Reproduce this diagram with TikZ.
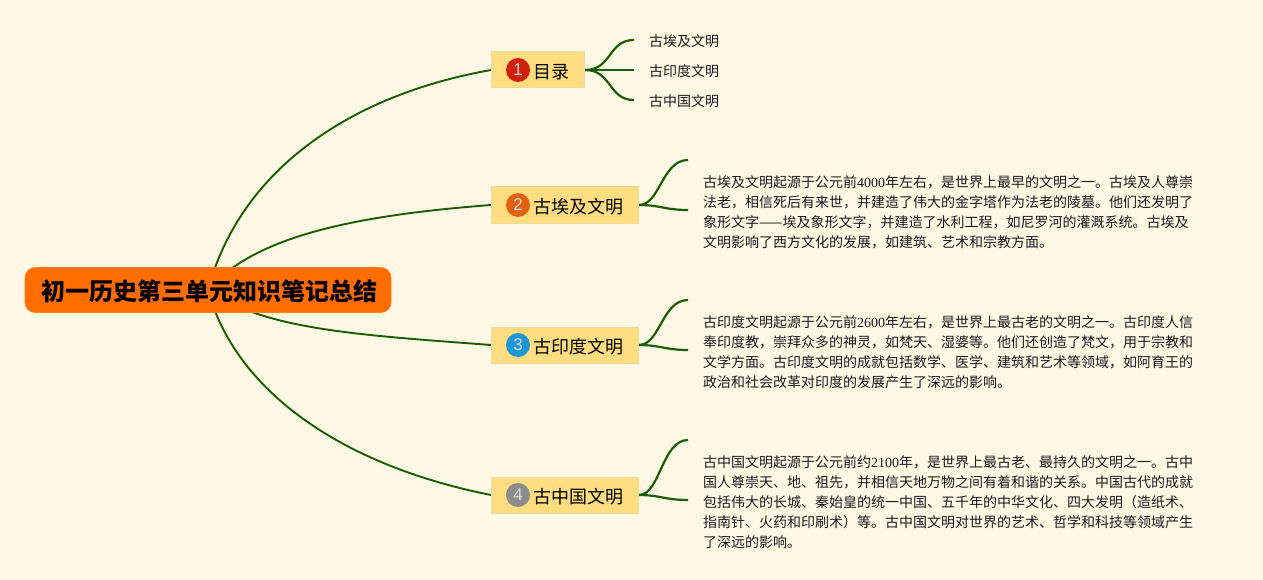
\documentclass[tikz,border=0pt]{standalone}
\usepackage{fontspec}
\usetikzlibrary{backgrounds}
\setmainfont{Noto Sans CJK SC}
\newfontfamily\serdigits{Liberation Serif}
\newfontfamily\sandigits{Liberation Sans}
\newcommand\txtdown[1]{\vphantom{\raisebox{#1}{目}}}
\definecolor{bgc}{HTML}{FFF8E5}
\definecolor{rootc}{HTML}{FF6D00}
\definecolor{boxc}{HTML}{FFDD80}
\definecolor{boxb}{HTML}{EBD9A0}
\definecolor{linec}{HTML}{1A5C00}
\definecolor{txt}{HTML}{1A1A1A}
\definecolor{bred}{HTML}{D0200A}
\definecolor{bora}{HTML}{E2620F}
\definecolor{bblu}{HTML}{1E96D8}
\definecolor{bgra}{HTML}{8C8C8C}
\tikzset{
 rootnode/.style={fill=rootc,draw=rootc!85!white,line width=0.6pt,rounded corners=10pt,minimum width=366pt,minimum height=45pt,inner sep=0pt,text=black,font=\fontsize{24pt}{28pt}\selectfont\bfseries},
 topic/.style={anchor=west,fill=boxc,draw=boxb,line width=1pt,minimum height=36pt,inner xsep=15pt,inner ysep=0pt,text=black,font=\fontsize{18pt}{22pt}\selectfont},
 badge/.style={circle,minimum size=24pt,inner sep=0pt,text=white!85!black,font=\fontsize{17pt}{18pt}\selectfont\sandigits},
 leaf/.style={anchor=west,inner xsep=15pt,inner ysep=0pt,text=txt,font=\fontsize{14pt}{20pt}\selectfont},
 body/.style={anchor=west,inner xsep=15pt,inner ysep=0pt,align=left,text=txt,font=\fontsize{14pt}{20pt}\selectfont},
 conn/.style={draw=linec,line width=1.9pt},
 twig/.style={draw=linec,line width=2.2pt},
}
\begin{document}
\begin{tikzpicture}[x=1pt,y=-1pt]
\useasboundingbox (0,0) rectangle (1263,580);
\node[rootnode] (root) at (208,290) {\txtdown{4pt}\hspace*{2pt}初一历史第三单元知识笔记总结};
\node[topic] (t1) at (491,70) {\txtdown{4.5pt}\hspace*{27pt}目录};
\node[topic] (t2) at (491,205) {\txtdown{4.5pt}\hspace*{27pt}古埃及文明};
\node[topic] (t3) at (491,345) {\txtdown{4.5pt}\hspace*{27pt}古印度文明};
\node[topic] (t4) at (491,495) {\txtdown{4.5pt}\hspace*{27pt}古中国文明};
\node[badge,fill=bred] (b1) at (518,70) {1};
\node[badge,fill=bora] (b2) at (518,205) {2};
\node[badge,fill=bblu] (b3) at (518,345) {3};
\node[badge,fill=bgra] (b4) at (518,495) {4};
\node[leaf] (l1) at (634,40) {\txtdown{3.5pt}古埃及文明};
\node[leaf] (l2) at (634,70) {\txtdown{3.5pt}古印度文明};
\node[leaf] (l3) at (634,100) {\txtdown{3.5pt}古中国文明};
\node[body] (d2) at (688,210) {\txtdown{5pt}古埃及文明起源于公元前{\serdigits 4000}年左右，是世界上最早的文明之一。古埃及人尊崇\\法老，相信死后有来世，并建造了伟大的金字塔作为法老的陵墓。他们还发明了\\象形文字——埃及象形文字，并建造了水利工程，如尼罗河的灌溉系统。古埃及\\文明影响了西方文化的发展，如建筑、艺术和宗教方面。};
\node[body] (d3) at (688,350) {\txtdown{5pt}古印度文明起源于公元前{\serdigits 2600}年左右，是世界上最古老的文明之一。古印度人信\\奉印度教，崇拜众多的神灵，如梵天、湿婆等。他们还创造了梵文，用于宗教和\\文学方面。古印度文明的成就包括数学、医学、建筑和艺术等领域，如阿育王的\\政治和社会改革对印度的发展产生了深远的影响。};
\node[body] (d4) at (688,500) {\txtdown{5pt}古中国文明起源于公元前约{\serdigits 2100}年，是世界上最古老、最持久的文明之一。古中\\国人尊崇天、地、祖先，并相信天地万物之间有着和谐的关系。中国古代的成就\\包括伟大的长城、秦始皇的统一中国、五千年的中华文化、四大发明（造纸术、\\指南针、火药和印刷术）等。古中国文明对世界的艺术、哲学和科技等领域产生\\了深远的影响。};
\coordinate (e2) at (688,160);
\coordinate (e3) at (688,300);
\coordinate (e4) at (688,440);
\begin{scope}[on background layer]
\fill[bgc] (0,0) rectangle (1263,580);
\draw[conn] (root.center) .. controls (240,170) and (350,95) .. (t1.west);
\draw[conn] (root.center) .. controls (255,235) and (360,215) .. (t2.west);
\draw[conn] (root.center) .. controls (265,330) and (360,335) .. (t3.west);
\draw[conn] (root.center) .. controls (235,390) and (340,465) .. (t4.west);
\draw[twig] (t1.east) .. controls (612,70) and (608,40) .. (l1.west);
\draw[twig] (t1.east) -- (l2.west);
\draw[twig] (t1.east) .. controls (612,70) and (608,100) .. (l3.west);
\draw[twig] (t2.east) .. controls (660,205) and (662,160) .. (e2);
\draw[twig] (t2.east) .. controls (660,205) and (665,210) .. (d2.west);
\draw[twig] (t3.east) .. controls (660,345) and (662,300) .. (e3);
\draw[twig] (t3.east) .. controls (660,345) and (665,350) .. (d3.west);
\draw[twig] (t4.east) .. controls (660,495) and (662,440) .. (e4);
\draw[twig] (t4.east) .. controls (660,495) and (665,500) .. (d4.west);
\end{scope}
\end{tikzpicture}
\end{document}
